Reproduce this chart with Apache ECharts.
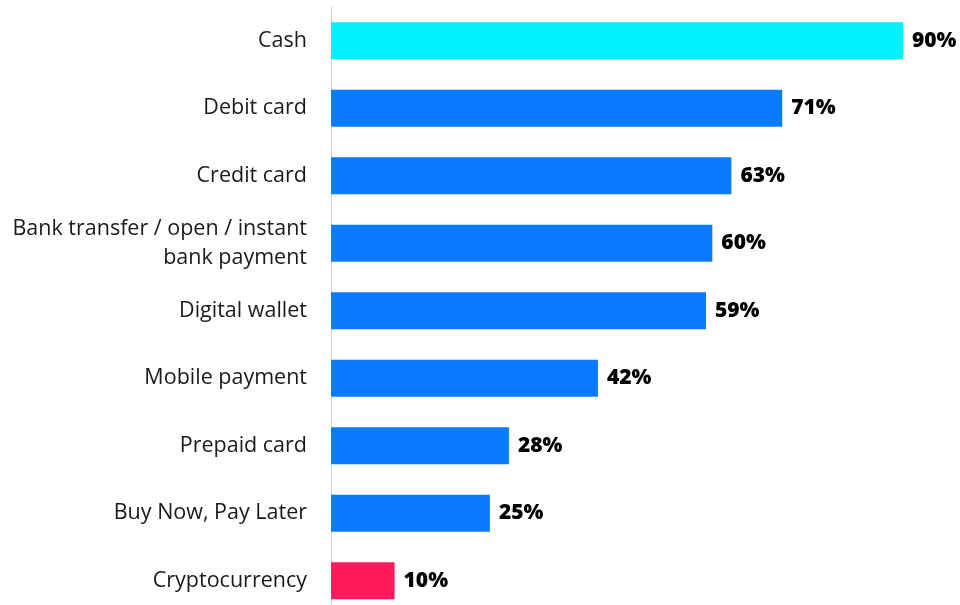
<!DOCTYPE html>
<html>
<head>
<meta charset="utf-8">
<script src="https://cdn.jsdelivr.net/npm/echarts@6/dist/echarts.min.js"></script>
<style>
html, body { margin: 0; padding: 0; background: #ffffff; overflow: hidden; }
#chart { width: 960px; height: 620px; }
</style>
</head>
<body>
<div id="chart"></div>
<script>
// Payment methods and share of respondents (%)
const categories = [
  'Cash',
  'Debit card',
  'Credit card',
  'Bank transfer / open / instant\nbank payment',
  'Digital wallet',
  'Mobile payment',
  'Prepaid card',
  'Buy Now, Pay Later',
  'Cryptocurrency'
];
const values = [90, 71, 63, 60, 59, 42, 28, 25, 10];
const barColors = ['#00F2FF', '#0A7AFF', '#0A7AFF', '#0A7AFF', '#0A7AFF', '#0A7AFF', '#0A7AFF', '#0A7AFF', '#FF1A5C'];

const chart = echarts.init(document.getElementById('chart'), null, { renderer: 'canvas' });

// The drawing area runs a little past the visible page so the last band is cut off at the bottom edge.
chart.setOption({
  animation: false,
  grid: { left: 331, right: 57, top: 7, height: 607.5, containLabel: false },
  xAxis: {
    type: 'value',
    min: 0,
    max: 90,
    show: false
  },
  yAxis: {
    type: 'category',
    data: categories,
    inverse: true,
    axisLine: { show: true, lineStyle: { color: '#d0d0d0', width: 1 } },
    axisTick: { show: false },
    axisLabel: {
      margin: 24,
      fontFamily: 'Open Sans',
      fontSize: 21.5,
      color: '#1a1a1a',
      lineHeight: 29,
      align: 'right'
    }
  },
  series: [{
    type: 'bar',
    data: values.map((v, i) => ({ value: v, itemStyle: { color: barColors[i] } })),
    barWidth: 37,
    label: {
      show: true,
      position: 'right',
      distance: 9,
      formatter: '{c}%',
      fontFamily: 'Open Sans',
      fontWeight: 800,
      fontSize: 21,
      color: '#000000'
    }
  }]
});
</script>
</body>
</html>
